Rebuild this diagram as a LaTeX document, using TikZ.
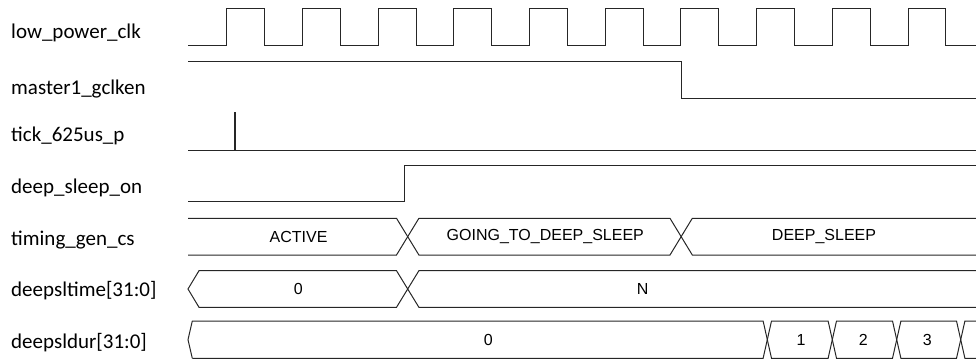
\documentclass[tikz,border=0pt]{standalone}
\usepackage{fontspec}
\setmainfont{Carlito}
\newfontfamily\valfont{Liberation Sans}

\begin{document}
\begin{tikzpicture}[
  x=1pt, y=-1pt,
  wave/.style={line width=1pt, draw=black!85},
  signame/.style={anchor=west, inner sep=0pt, font=\fontsize{21}{25}\selectfont},
  busval/.style={inner sep=0pt, font=\valfont\fontsize{16}{19}\selectfont}
]
\useasboundingbox (0,0) rectangle (976,363);
% signal names
\node[signame] (nclk) at (11,33) {low\_power\_clk};
\node[signame] (ngclken) at (11,89) {master1\_gclken};
\node[signame] (ntick) at (11,136) {tick\_625us\_p};
\node[signame] (nsleep) at (11,188) {deep\_sleep\_on};
\node[signame] (ncs) at (11,240) {timing\_gen\_cs};
\node[signame] (ntime) at (11,291) {deepsltime[31:0]};
\node[signame] (ndur) at (11,343) {deepsldur[31:0]};
% low_power_clk
\draw[wave] (188,46) \foreach \i in {0,...,9}{
  -- ({226.7+75.7*\i},46) -- ({226.7+75.7*\i},9)
  -- ({264.6+75.7*\i},9) -- ({264.6+75.7*\i},46)} -- (976,46);
% master1_gclken
\draw[wave] (188,61.3) -- (681,61.3) -- (681,98.3) -- (976,98.3);
% tick_625us_p
\draw[wave] (188,150.7) -- (234,150.7) -- (234,113) -- (235.5,113) -- (235.5,150.7) -- (976,150.7);
% deep_sleep_on
\draw[wave] (188,202) -- (404.3,202) -- (404.3,166) -- (976,166);
% timing_gen_cs
\draw[wave] (188,218.3) -- (396.5,218.3) -- (418.9,255) -- (670,255) -- (692.3,218.3) -- (976,218.3);
\draw[wave] (188,255) -- (396.5,255) -- (418.9,218.3) -- (670,218.3) -- (692.3,255) -- (976,255);
\node[busval] (vactive) at (298.6,236.7) {ACTIVE};
\node[busval] (vgoing) at (545.3,236.7) {GOING\_TO\_DEEP\_SLEEP};
\node[busval] (vdeep) at (824,236.7) {DEEP\_SLEEP};
% deepsltime[31:0]
\draw[wave] (976,270.7) -- (418.9,270.7) -- (396.5,307.3) -- (199,307.3) -- (188,289)
  -- (199,270.7) -- (396.5,270.7) -- (418.9,307.3) -- (976,307.3);
\node[busval] (vtime0) at (298.3,289) {0};
\node[busval] (vtimen) at (642.7,289) {N};
% deepsldur[31:0]
\draw[wave] (192.3,358.3) -- (188,339.7) -- (192.3,321) -- (763.1,321) -- (771.5,358.3)
  -- (828.1,358.3) -- (836.5,321) -- (892.5,321) -- (900.9,358.3) -- (956.5,358.3) -- (964.9,321) -- (976,321);
\draw[wave] (192.3,358.3) -- (763.1,358.3) -- (771.5,321) -- (828.1,321) -- (836.5,358.3)
  -- (892.5,358.3) -- (900.9,321) -- (956.5,321) -- (964.9,358.3) -- (976,358.3);
\node[busval] (vdur0) at (488.3,339.7) {0};
\node[busval] (vdur1) at (801,339.7) {1};
\node[busval] (vdur2) at (863.3,339.7) {2};
\node[busval] (vdur3) at (927.3,339.7) {3};
\end{tikzpicture}
\end{document}
